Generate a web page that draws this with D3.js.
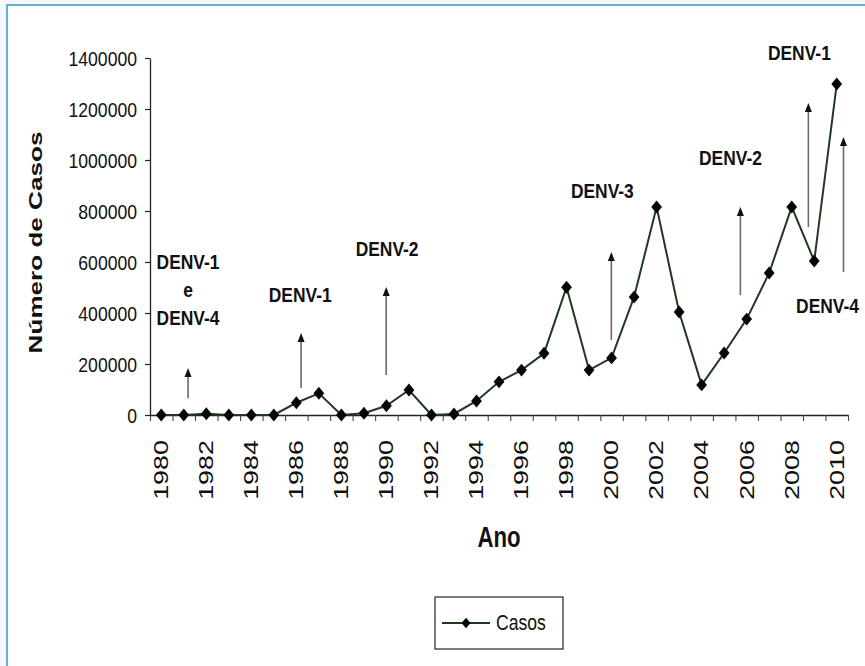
<!DOCTYPE html>
<html>
<head>
<meta charset="utf-8">
<script src="https://cdn.jsdelivr.net/npm/d3@7"></script>
<style>
  html, body { margin: 0; padding: 0; background: #f4f8fb; }
  svg { display: block; font-family: "Liberation Sans", Arial, sans-serif; }
</style>
</head>
<body>
<div id="chart-container"></div>
<script>
// chart data
const years = [
  1980, 1981, 1982, 1983, 1984, 1985, 1986, 1987, 1988, 1989,
  1990, 1991, 1992, 1993, 1994, 1995, 1996, 1997, 1998, 1999,
  2000, 2001, 2002, 2003, 2004, 2005, 2006, 2007, 2008, 2009, 2010
];
const cases = [
  0, 0, 5000, 0, 0, 0, 48000, 85000, 0, 7000,
  36000, 98000, 0, 4000, 55000, 130000, 176000, 242000, 501000, 176000,
  224000, 463000, 816000, 404000, 118000, 243000, 376000, 557000, 816000, 604000, 1298000
];
const yTicks = [0, 200000, 400000, 600000, 800000, 1000000, 1200000, 1400000];
const xLabelYears = [1980, 1982, 1984, 1986, 1988, 1990, 1992, 1994, 1996, 1998, 2000, 2002, 2004, 2006, 2008, 2010];
const seriesName = "Casos";
const xTitle = "Ano";
const yTitle = "Número de Casos";

// serotype introductions (label lines, label year/value, arrow year, arrow from/to values)
const annotLines = [["DENV-1", "e", "DENV-4"], ["DENV-1"], ["DENV-2"], ["DENV-3"], ["DENV-2"], ["DENV-1"], ["DENV-4"]];
const annotLabelYear = [1981.19, 1986.17, 1990.03, 1999.59, 2005.28, 2008.34, 2009.59];
const annotLabelValue = [572000, 443000, 623000, 851000, 980000, 1392000, 400000];
const arrowYear = [1981.19, 1986.21, 1989.99, 1999.99, 2005.72, 2008.74, 2010.30];
const arrowFrom = [66000, 106000, 157000, 294000, 470000, 737000, 561000];
const arrowTo = [184000, 322000, 502000, 639000, 816000, 1224000, 1090000];

const W = 865, H = 666;

const svg = d3.select("#chart-container")
  .append("svg")
  .attr("width", W)
  .attr("height", H);

// frame
svg.append("rect")
  .attr("x", 7).attr("y", 5)
  .attr("width", W + 20).attr("height", H + 20)
  .attr("fill", "#fff")
  .attr("stroke", "#62b2d6")
  .attr("stroke-width", 2);

// scales
const x = d3.scaleLinear().domain([1979.5, 2010.5]).range([150, 848]);
const y = d3.scaleLinear().domain([0, 1400000]).range([415, 58]);

// helper: text squeezed / stretched along its direction
function stretchedText(str, px, py, size, sx, opts = {}) {
  const rot = opts.rotate ? ` rotate(${opts.rotate})` : "";
  return svg.append("text")
    .attr("transform", `translate(${px},${py})${rot} scale(${sx},1)`)
    .attr("text-anchor", opts.anchor || "middle")
    .attr("dy", opts.dy || 0)
    .style("font-size", size + "px")
    .style("font-weight", opts.weight || "normal")
    .attr("fill", "#111")
    .text(str);
}

// y axis
const yAxis = svg.append("g")
  .attr("transform", "translate(150,0)")
  .call(d3.axisLeft(y).tickValues(yTicks).tickSize(5).tickSizeOuter(0).tickFormat(d3.format("d")));
yAxis.select(".domain").attr("stroke", "#222").attr("stroke-width", 1.3);
yAxis.selectAll(".tick line").attr("stroke", "#222").attr("stroke-width", 1.2);
yAxis.selectAll(".tick text")
  .attr("x", -13 / 0.88)
  .attr("dy", "0.36em")
  .attr("transform", "scale(0.88,1)")
  .attr("fill", "#111")
  .style("font-size", "20px")
  .style("font-family", "'Liberation Sans', Arial, sans-serif");

// x axis: ticks at category boundaries
const xAxis = svg.append("g")
  .attr("transform", `translate(0,${y(0)})`)
  .call(d3.axisBottom(x).tickValues(d3.range(1979.5, 2011, 1)).tickSize(6).tickSizeOuter(0).tickFormat(""));
xAxis.select(".domain").attr("stroke", "#222").attr("stroke-width", 1.3);
xAxis.selectAll(".tick line").attr("stroke", "#444").attr("stroke-width", 1.1);

// x tick labels, rotated
xLabelYears.forEach(yr => {
  stretchedText(String(yr), x(yr), 440, 19.5, 1.38, { rotate: -90, anchor: "end", dy: "0.35em" });
});

// axis titles
stretchedText(xTitle, (x(1980) + x(2010)) / 2, 547, 30, 0.74, { weight: "bold" });
stretchedText(yTitle, 36, (y(0) + y(1400000)) / 2 + 6, 18, 1.45, { rotate: -90, weight: "bold", dy: "0.35em" });

// annotations: arrows
const arrowG = svg.append("g");
arrowYear.forEach((yr, i) => {
  const ax = x(yr);
  const y0 = y(arrowFrom[i]);
  const y1 = y(arrowTo[i]);
  arrowG.append("line")
    .attr("x1", ax).attr("x2", ax)
    .attr("y1", y0).attr("y2", y1 + 6)
    .attr("stroke", "#6a6a6a")
    .attr("stroke-width", 1.6);
  arrowG.append("path")
    .attr("d", `M${ax},${y1} L${ax - 3.5},${y1 + 9} L${ax + 3.5},${y1 + 9} Z`)
    .attr("fill", "#111");
});

// annotations: labels
annotLines.forEach((lines, i) => {
  lines.forEach((ln, j) => {
    stretchedText(ln, x(annotLabelYear[i]), y(annotLabelValue[i]) + j * 28, 21, 0.83, { weight: "bold" });
  });
});

// the series line
const line = d3.line()
  .x((d, i) => x(years[i]))
  .y(d => y(d));

svg.append("path")
  .datum(cases)
  .attr("fill", "none")
  .attr("stroke", "#1f3a1f")
  .attr("stroke-width", 2)
  .attr("d", line);

// diamond markers
const diamond = d3.symbol().type(d3.symbolSquare).size(58);
svg.selectAll(".marker")
  .data(cases)
  .enter()
  .append("path")
  .attr("class", "marker")
  .attr("d", diamond)
  .attr("transform", (d, i) => `translate(${x(years[i])},${y(d)}) scale(1,1.2) rotate(45)`)
  .attr("fill", "#050505");

// legend
const legend = svg.append("g").attr("transform", "translate(435,597)");
legend.append("rect")
  .attr("width", 128).attr("height", 52)
  .attr("fill", "#fff")
  .attr("stroke", "#222")
  .attr("stroke-width", 1.2);
legend.append("line")
  .attr("x1", 7).attr("x2", 55)
  .attr("y1", 26).attr("y2", 26)
  .attr("stroke", "#1f3a1f")
  .attr("stroke-width", 2);
legend.append("path")
  .attr("d", d3.symbol().type(d3.symbolSquare).size(40))
  .attr("transform", "translate(31,26) scale(1,1.2) rotate(45)")
  .attr("fill", "#050505");
legend.append("text")
  .attr("transform", "translate(61,33) scale(0.8,1)")
  .style("font-size", "22px")
  .attr("fill", "#111")
  .text(seriesName);
</script>
</body>
</html>
